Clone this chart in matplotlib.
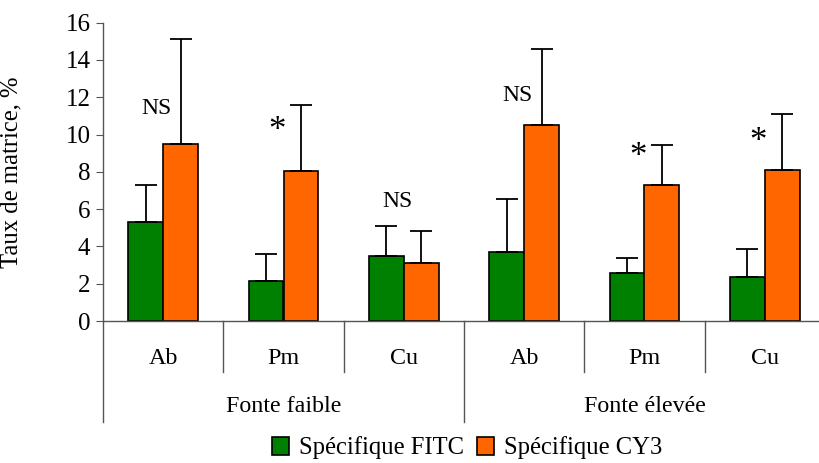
import numpy as np
import matplotlib
matplotlib.use('Agg')
import matplotlib.pyplot as plt

plt.rcParams['font.family'] = ['Liberation Serif', 'DejaVu Serif']

# data
categories = ['Ab', 'Pm', 'Cu', 'Ab', 'Pm', 'Cu']
groups = ['Fonte faible', 'Fonte élevée']
fitc = [5.3, 2.15, 3.5, 3.7, 2.55, 2.35]
fitc_err = [2.0, 1.45, 1.6, 2.85, 0.85, 1.5]
cy3 = [9.5, 8.05, 3.1, 10.5, 7.3, 8.1]
cy3_err = [5.6, 3.55, 1.75, 4.1, 2.15, 3.0]
signif = ['NS', '*', 'NS', 'NS', '*', '*']
signif_y = [11.1, 9.7, 6.1, 11.8, 8.3, 9.1]

green = '#008000'
orange = '#FF6600'
grey = '#555555'

fig = plt.figure(figsize=(8.19, 4.63), dpi=100)
ax = fig.add_axes([103 / 819, 142 / 463, 722 / 819, 298.3 / 463])

x = np.arange(len(categories))
w = 0.29
ekw = dict(elinewidth=1.3, capthick=1.3, ecolor='black')
ax.bar(x - w / 2, fitc, w, color=green, edgecolor='black', linewidth=1.2,
       yerr=[np.zeros(len(fitc)), fitc_err], capsize=8, error_kw=ekw,
       label='Spécifique FITC')
ax.bar(x + w / 2, cy3, w, color=orange, edgecolor='black', linewidth=1.2,
       yerr=[np.zeros(len(cy3)), cy3_err], capsize=8, error_kw=ekw,
       label='Spécifique CY3')

for i, s in enumerate(signif):
    ax.text(i - 0.055, signif_y[i], s, ha='center', va='baseline',
            fontsize=25 if s == '*' else 17)

ax.set_xlim(-0.5, len(categories) - 0.5)
ax.set_ylim(0, 16)
ax.set_yticks(range(0, 17, 2))
ax.tick_params(axis='y', labelsize=18, length=5, color=grey, direction='out', pad=4)
ax.set_xticks([])
for s in ['top', 'right']:
    ax.spines[s].set_visible(False)
for s in ['left', 'bottom']:
    ax.spines[s].set_color(grey)
    ax.spines[s].set_linewidth(1.0)

ax.set_ylabel('Taux de matrice, %', fontsize=17.7)
ax.yaxis.set_label_coords(-0.112, 0.5)

# two-level category axis
trans = ax.get_xaxis_transform()
for i in range(len(categories) + 1):
    b = i - 0.5
    if i % 3 == 0:
        ax.plot([b, b], [0, -0.34], color=grey, lw=1.0, transform=trans, clip_on=False)
    else:
        ax.plot([b, b], [0, -0.172], color=grey, lw=1.0, transform=trans, clip_on=False)
for i, c in enumerate(categories):
    ax.text(i, -0.125, c, transform=trans, ha='center', va='center', fontsize=17.3)
for j, g in enumerate(groups):
    ax.text(j * 3 + 1, -0.288, g, transform=trans, ha='center', va='center', fontsize=17.3)

fig.legend(loc='center', bbox_to_anchor=(467 / 819, 1 - 448 / 463), ncol=2,
           frameon=False, fontsize=17.7, handlelength=0.7, handleheight=0.8,
           handletextpad=0.4, columnspacing=0.5, borderaxespad=0)

fig.savefig('out.png', dpi=100)
